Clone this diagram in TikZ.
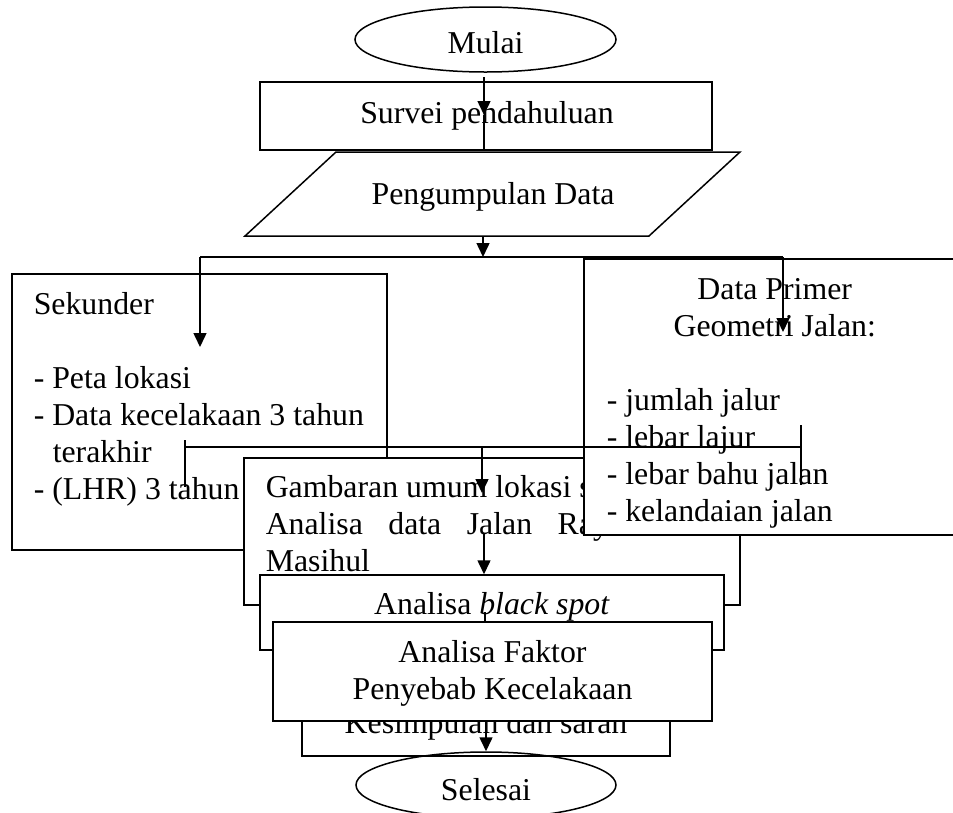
\documentclass[tikz,border=0pt]{standalone}
\usepackage{fontspec}
\setmainfont{Liberation Serif}
\usetikzlibrary{arrows.meta,shapes.geometric}
\newcommand{\fsz}{\fontsize{31.8}{37}\selectfont}
\begin{document}
\begin{tikzpicture}[x=1pt,y=-1pt,line width=1.5pt,
  boxr/.style={draw,fill=white,rectangle,inner sep=0pt,minimum width=#1},
  term/.style={draw,ellipse,inner sep=0pt,minimum width=261pt,minimum height=65pt},
  txt/.style={inner sep=0pt,anchor=base,font=\fsz},
  txtl/.style={inner sep=0pt,anchor=base west,font=\fsz},
  arr/.style={-{Triangle[length=14pt,width=13pt]}}]
\useasboundingbox (0,0) rectangle (953,812);
\clip (0,0) rectangle (953,812);

% Mulai + Survei
\node[term] (mulai) at (485.5,39.5) {};
\node[txt] (tmulai) at (485.5,53) {Mulai};
\node[boxr=452pt,minimum height=68pt] (survei) at (486,116) {};
\node[txt] (tsurvei) at (487,123) {Survei pendahuluan};
\coordinate (m1) at (484,77);
\coordinate (m2) at (484,115);
\draw[arr] (m1) -- (m2);
\draw (m2) -- (m2 |- survei.south);

% Pengumpulan Data (parallelogram)
\coordinate (ptl) at (336,152);
\coordinate (ptr) at (740,152);
\coordinate (pbr) at (649,236);
\coordinate (pbl) at (245,236);
\draw (ptl) -- (ptr) -- (pbr) -- (pbl) -- cycle;
\node[txt] (tpeng) at (493,204) {Pengumpulan Data};

% Sekunder box
\node[boxr=375pt,minimum height=276pt] (sekunder) at (199.5,412) {};
\node[txtl] (tsekunder) at (33,314) {\parbox[t]{350pt}{\raggedright Sekunder\\
\mbox{}\\
- Peta lokasi\\
- Data kecelakaan 3 tahun\\
\hspace*{19pt}terakhir\\
- (LHR) 3 tahun}};

% Gambaran box
\node[boxr=496pt,minimum height=147pt] (gambaran) at (492,531.5) {};
\node[txtl] (tgambaran) at (265,497) {\parbox[t]{470pt}{\raggedright Gambaran umum lokasi studi\\
Analisa\hspace{25.5pt}data\hspace{25.5pt}Jalan\hspace{25.5pt}Raya\\
Masihul}};

% Data Primer box
\node[boxr=379pt,minimum height=276pt] (primer) at (773.5,397) {};
\node[txtl] (tprimer) at (606,299) {\parbox[t]{336pt}{\raggedright
\makebox[336pt]{Data Primer}\\
\makebox[336pt]{Geometri Jalan:}\\
\mbox{}\\
- jumlah jalur\\
- lebar lajur\\
- lebar bahu jalan\\
- kelandaian jalan}};

% branch connectors
\coordinate (p1) at (483,236);
\coordinate (j) at (483,257);
\coordinate (jl) at (200,257);
\coordinate (jr) at (783,257);
\coordinate (sa) at (200,347);
\coordinate (ra) at (783,332);
\draw[arr] (p1) -- (j);
\draw (jl) -- (jr);
\draw[arr] (jl) -- (sa);
\draw[arr] (jr) -- (ra);

% bracket connector
\coordinate (b1t) at (185,440);
\coordinate (b1b) at (185,487);
\coordinate (b2t) at (801,425);
\coordinate (b2b) at (801,485);
\coordinate (bl) at (185,447);
\coordinate (br) at (801,447);
\coordinate (bm) at (482,447);
\coordinate (bt) at (482,493);
\draw (b1t) -- (b1b);
\draw (b2t) -- (b2b);
\draw (bl) -- (br);
\draw[arr] (bm) -- (bt);

% Analisa black spot
\node[boxr=464pt,minimum height=75pt] (blackspot) at (492,612.5) {};
\node[txt] (tblackspot) at (492,614) {Analisa \textit{black spot}};
\coordinate (g1) at (484,533);
\draw[arr] (g1) -- (g1 |- blackspot.north);

% Kesimpulan + Analisa Faktor
\node[boxr=368pt,minimum height=56pt] (kesimpulan) at (486,728) {};
\node[txt] (tkesimpulan) at (486,733) {Kesimpulan dan saran};
\coordinate (k1) at (485,612);
\draw (k1) -- (k1 |- 0,622);
\node[boxr=439pt,minimum height=99pt] (faktor) at (492.5,671.5) {};
\node[txt] (tfaktor) at (492.5,662) {\parbox[t]{439pt}{\centering Analisa Faktor\\ Penyebab Kecelakaan}};

% Selesai
\node[term,minimum width=260pt,minimum height=66pt] (selesai) at (486,785) {};
\node[txt] (tselesai) at (486,800) {Selesai};
\draw[arr] (selesai.north |- faktor.south) -- (selesai.north);
\end{tikzpicture}
\end{document}
